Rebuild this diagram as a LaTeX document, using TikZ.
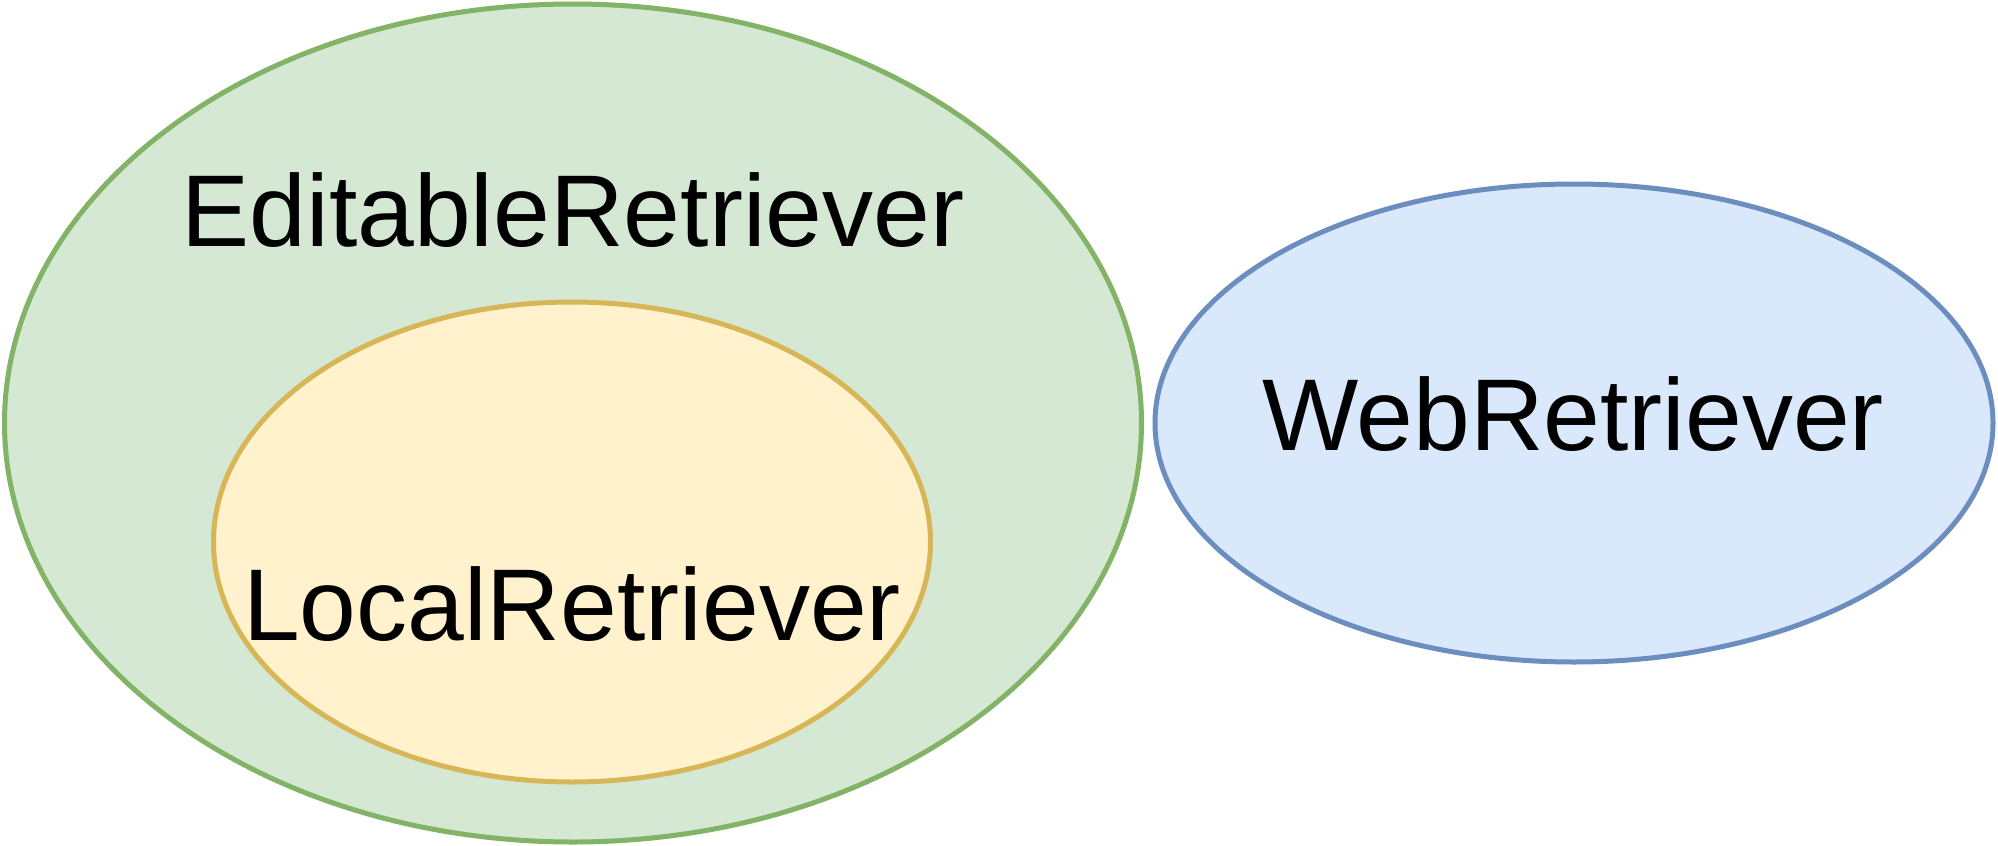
\documentclass[tikz,border=0pt]{standalone}
\usepackage{fontspec}
\setmainfont{Liberation Sans}
\usetikzlibrary{shapes.geometric}
\definecolor{gstroke}{HTML}{82B366}
\definecolor{gfill}{HTML}{D5E8D4}
\definecolor{ystroke}{HTML}{D6B656}
\definecolor{yfill}{HTML}{FFF2CC}
\definecolor{bstroke}{HTML}{6C8EBF}
\definecolor{bfill}{HTML}{DAE8FC}
\begin{document}
\begin{tikzpicture}[x=1pt,y=-1pt,
  blob/.style={ellipse,inner sep=0pt,line width=5pt},
  lbl/.style={anchor=base,inner sep=0pt,font=\fontsize{102}{122}\selectfont}]
\useasboundingbox (0,0) rectangle (1998,846);
\node[blob,draw=gstroke,fill=gfill,minimum width=1137pt,minimum height=838pt] (editable) at (573,423) {};
\node[blob,draw=ystroke,fill=yfill,minimum width=717pt,minimum height=480pt] (local) at (572,542) {};
\node[blob,draw=bstroke,fill=bfill,minimum width=838pt,minimum height=478pt] (web) at (1574,423) {};
\node[lbl] (editabletext) at (573,246) {EditableRetriever};
\node[lbl] (localtext) at (572,640) {LocalRetriever};
\node[lbl] (webtext) at (1573,450) {WebRetriever};
\end{tikzpicture}
\end{document}
